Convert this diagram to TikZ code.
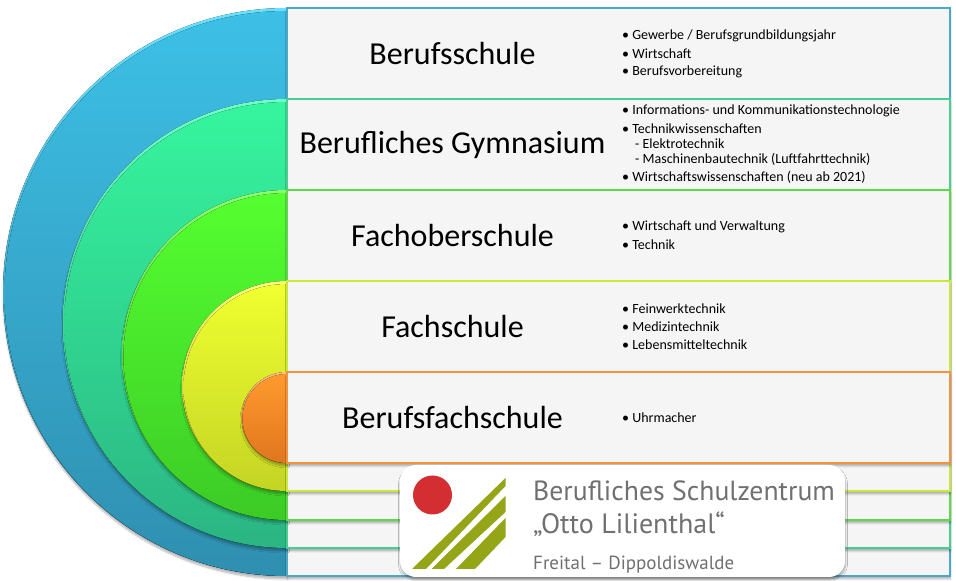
\documentclass[tikz,border=0pt]{standalone}
\usepackage{fontspec}
\setmainfont{Carlito}
\newfontfamily\logofont{PT Sans}
\usetikzlibrary{positioning,shadows.blur}
\definecolor{blueline}{HTML}{4AA8C8}
\definecolor{tealline}{HTML}{45D08F}
\definecolor{greenline}{HTML}{5CD94A}
\definecolor{yellowline}{HTML}{C9E83A}
\definecolor{orangeline}{HTML}{F59240}
\definecolor{boxfill}{HTML}{F5F5F5}
\definecolor{logogrey}{HTML}{6F7072}
\definecolor{logored}{HTML}{D32F33}
\definecolor{logogreen}{HTML}{94A617}
\definecolor{bluetop}{HTML}{3DC0E6}
\definecolor{bluebot}{HTML}{2F8FB0}
\definecolor{bluerim}{HTML}{6CDFFF}
\definecolor{tealtop}{HTML}{36F59E}
\definecolor{tealbot}{HTML}{2BB583}
\definecolor{tealrim}{HTML}{70FFC8}
\definecolor{greentop}{HTML}{55FF30}
\definecolor{greenbot}{HTML}{3CCB26}
\definecolor{greenrim}{HTML}{8CFF70}
\definecolor{yellowtop}{HTML}{EFFF30}
\definecolor{yellowbot}{HTML}{C4D424}
\definecolor{yellowrim}{HTML}{FFFF80}
\definecolor{orangetop}{HTML}{FF9A2E}
\definecolor{orangebot}{HTML}{E0761F}
\definecolor{orangerim}{HTML}{FFC080}
\tikzset{
	softshadow/.style={blur shadow={shadow xshift=0.5pt,shadow yshift=-3pt,shadow blur steps=6,shadow opacity=30}},
	schoolbox/.style={draw=#1,line width=1.8pt,fill=boxfill,softshadow},
	heading/.style={font=\fontsize{32}{36}\selectfont,text=black},
	itemtext/.style={anchor=west,inner sep=0pt,font=\fontsize{14}{16}\selectfont,text=black},
	logotext/.style={anchor=base west,inner sep=0pt,text=logogrey}
}
\begin{document}
\begin{tikzpicture}[x=1pt,y=1pt]
	
	\useasboundingbox (0,0) rectangle (956,581);
	
	% blue
	\fill[softshadow,top color=bluerim,bottom color=bluebot!85!black] (287,573) arc (90:270:284) -- cycle;
	\fill[top color=bluetop,bottom color=bluebot] (287,570) arc (90:270:282.5) -- cycle;
	\draw[schoolbox=blueline] (287,5) rectangle (950,573);
	
	% teal
	\fill[softshadow,top color=tealrim,bottom color=tealbot!85!black] (287,482) arc (90:270:224.5) -- cycle;
	\fill[top color=tealtop,bottom color=tealbot] (287,479) arc (90:270:223) -- cycle;
	\draw[schoolbox=tealline] (287,33) rectangle (950,482);
	
	% green
	\fill[softshadow,top color=greenrim,bottom color=greenbot!85!black] (287,391) arc (90:270:165) -- cycle;
	\fill[top color=greentop,bottom color=greenbot] (287,388) arc (90:270:163.5) -- cycle;
	\draw[schoolbox=greenline] (287,61) rectangle (950,391);
	
	% yellow
	\fill[softshadow,top color=yellowrim,bottom color=yellowbot!80!orange!85!black] (287,300) arc (90:270:105) -- cycle;
	\fill[top color=yellowtop,bottom color=yellowbot] (287,297) arc (90:270:103.5) -- cycle;
	\draw[schoolbox=yellowline] (287,90) rectangle (950,300);
	
	% orange
	\fill[softshadow,top color=orangerim,bottom color=orangebot!85!black] (287,209) arc (90:270:45.5) -- cycle;
	\fill[top color=orangetop,bottom color=orangebot] (287,207) arc (90:270:44.5) -- cycle;
	\draw[schoolbox=orangeline] (287,118) rectangle (950,209);
	
	% headings
	\node[heading]
	(berufsschule)
	at (452.5,527.5)
	{Berufsschule};
	
	\node[heading]
	(gymnasium)
	at (452.5,436)
	{Berufliches Gymnasium};
	
	\node[heading]
	(fachober)
	at (452.5,345.5)
	{Fachoberschule};
	
	\node[heading]
	(fachschule)
	at (452.5,254.5)
	{Fachschule};
	
	\node[heading]
	(berufsfach)
	at (452.5,163.5)
	{Berufsfachschule};
	
	% lists
	\node[itemtext] (itemA) at (622,545) {• Gewerbe / Berufsgrundbildungsjahr};
	\node[itemtext] (itemB) at (622,527) {• Wirtschaft};
	\node[itemtext] (itemC) at (622,509) {• Berufsvorbereitung};
	
	\node[itemtext] (itemD) at (622,470) {• Informations- und Kommunikationstechnologie};
	\node[itemtext] (itemE) at (622,452) {• Technikwissenschaften};
	\node[itemtext] (itemF) at (635,437) {- Elektrotechnik};
	\node[itemtext] (itemG) at (635,422) {- Maschinenbautechnik (Luftfahrttechnik)};
	\node[itemtext] (itemH) at (622,404) {• Wirtschaftswissenschaften (neu ab 2021)};
	
	\node[itemtext] (itemI) at (622,354) {• Wirtschaft und Verwaltung};
	\node[itemtext] (itemJ) at (622,336) {• Technik};
	
	\node[itemtext] (itemK) at (622,272) {• Feinwerktechnik};
	\node[itemtext] (itemL) at (622,254) {• Medizintechnik};
	\node[itemtext] (itemM) at (622,236) {• Lebensmitteltechnik};
	
	\node[itemtext] (itemN) at (622,163) {• Uhrmacher};
	
	% logo
	\fill[white,rounded corners=16pt,softshadow] (400,4) rectangle (845,116);
	\fill[logored] (432.5,86) circle (19.5);
	\fill[logogreen] (412,12) -- (426,12) -- (505.5,95) -- (505.5,103) -- cycle;
	\fill[logogreen] (431.5,12) -- (444,12) -- (505.5,69) -- (505.5,85) -- cycle;
	\fill[logogreen] (456,12) -- (475,12) -- (505.5,44) -- (505.5,63) -- cycle;
	
	\node[logotext,font=\logofont\fontsize{27.7}{32}\selectfont]
	(logoname)
	at (533,80)
	{Berufliches Schulzentrum};
	
	\node[logotext,font=\logofont\fontsize{28}{32}\selectfont]
	(logoperson)
	at (533,47)
	{„Otto Lilienthal“};
	
	\node[logotext,font=\logofont\fontsize{19}{22}\selectfont]
	(logotown)
	at (533,11)
	{Freital – Dippoldiswalde};
	
\end{tikzpicture}
\end{document}
